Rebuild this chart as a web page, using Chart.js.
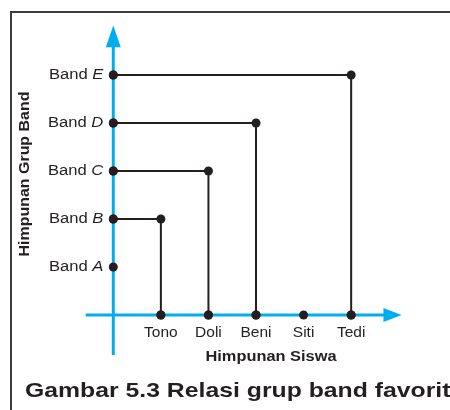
<!DOCTYPE html>
<html>
<head>
<meta charset="utf-8">
<script src="https://cdn.jsdelivr.net/npm/chart.js@4"></script>
<style>
  html, body { margin: 0; padding: 0; background: #fff; }
  canvas { display: block; }
</style>
</head>
<body>
<canvas id="grafikRelasi" width="450" height="410"></canvas>
<script>
'use strict'

// DATOS DEL DIAGRAMA
const siswa = ['Tono', 'Doli', 'Beni', 'Siti', 'Tedi'];
const grupBand = ['A', 'B', 'C', 'D', 'E'];
// pasangan relasi: siswa -> band favorit
const relasiSiswa = ['Tono', 'Doli', 'Beni', 'Tedi'];
const relasiBand = ['B', 'C', 'D', 'E'];
const judulX = 'Himpunan Siswa';
const judulY = 'Himpunan Grup Band';
const judulGambar = 'Gambar 5.3 Relasi grup band favorit';

const BIRU = '#00aeef';
const HITAM = '#231f20';
const FONT = '"Liberation Sans", Arial, sans-serif';

// titik-titik di tiap sumbu
const titikSiswa = siswa.map((s, i) => ({ x: i + 1, y: 0 }));
const titikBand = grupBand.map((b, i) => ({ x: 0, y: i + 1 }));

// garis siku dari band ke siswa
const garisRelasi = relasiSiswa.map((s, i) => {
  const xs = siswa.indexOf(s) + 1;
  const yb = grupBand.indexOf(relasiBand[i]) + 1;
  return {
    data: [{ x: 0, y: yb }, { x: xs, y: yb }, { x: xs, y: 0 }],
    showLine: true,
    borderColor: HITAM,
    borderWidth: 2,
    pointRadius: 4.5,
    pointBackgroundColor: HITAM,
    pointBorderWidth: 0,
    tension: 0,
    clip: false
  };
});

function titik(data) {
  return {
    data: data,
    showLine: false,
    pointRadius: 4.5,
    pointBackgroundColor: HITAM,
    pointBorderWidth: 0,
    clip: false
  };
}

// tulisan yang sedikit melebar ke samping
function tulisLebar(ctx, teks, x, y, skala) {
  ctx.save();
  ctx.translate(x, y);
  ctx.scale(skala, 1);
  ctx.fillText(teks, 0, 0);
  ctx.restore();
}

// SUMBU BIRU, BINGKAI Y TULISAN
const pluginGambar = {
  id: 'pluginGambar',
  beforeDraw(chart) {
    const ctx = chart.ctx;
    ctx.save();
    ctx.fillStyle = '#fff';
    ctx.fillRect(0, 0, chart.width, chart.height);
    ctx.strokeStyle = '#3c3c3c';
    ctx.lineWidth = 2;
    ctx.strokeRect(11, 12, 470, 430);
    ctx.restore();
  },
  beforeDatasetsDraw(chart) {
    const ctx = chart.ctx;
    const sx = chart.scales.x, sy = chart.scales.y;
    const x0 = sx.getPixelForValue(0), y0 = sy.getPixelForValue(0);
    ctx.save();
    ctx.strokeStyle = BIRU;
    ctx.fillStyle = BIRU;
    ctx.lineWidth = 3;
    // sumbu x
    const xa = sx.getPixelForValue(-0.58), xb = sx.getPixelForValue(5.7), xt = sx.getPixelForValue(6.06);
    ctx.beginPath();
    ctx.moveTo(xa, y0);
    ctx.lineTo(xb, y0);
    ctx.stroke();
    ctx.beginPath();
    ctx.moveTo(xt, y0);
    ctx.lineTo(xb - 1, y0 - 7);
    ctx.lineTo(xb - 1, y0 + 7);
    ctx.closePath();
    ctx.fill();
    // sumbu y
    const ya = sy.getPixelForValue(-0.833), yb = sy.getPixelForValue(5.6), yt = sy.getPixelForValue(6.03);
    ctx.beginPath();
    ctx.moveTo(x0, ya);
    ctx.lineTo(x0, yb);
    ctx.stroke();
    ctx.beginPath();
    ctx.moveTo(x0, yt);
    ctx.lineTo(x0 - 7.5, yb + 1);
    ctx.lineTo(x0 + 7.5, yb + 1);
    ctx.closePath();
    ctx.fill();
    ctx.restore();
  },
  afterDatasetsDraw(chart) {
    const ctx = chart.ctx;
    const sx = chart.scales.x, sy = chart.scales.y;
    const x0 = sx.getPixelForValue(0), y0 = sy.getPixelForValue(0);
    ctx.save();
    ctx.fillStyle = HITAM;
    ctx.textBaseline = 'middle';

    // label band: "Band " + huruf miring
    const skalaLabel = 1.07;
    grupBand.forEach((b, i) => {
      const y = sy.getPixelForValue(i + 1);
      ctx.font = 'italic 15.5px ' + FONT;
      const wHuruf = ctx.measureText(b).width * skalaLabel;
      ctx.textAlign = 'right';
      tulisLebar(ctx, b, x0 - 10, y, skalaLabel);
      ctx.font = '15.5px ' + FONT;
      tulisLebar(ctx, 'Band ', x0 - 10 - wHuruf, y, skalaLabel);
    });

    // label siswa
    ctx.font = '15.5px ' + FONT;
    ctx.textAlign = 'center';
    siswa.forEach((s, i) => {
      ctx.fillText(s, sx.getPixelForValue(i + 1), y0 + 18);
    });

    // judul sumbu
    ctx.font = 'bold 14px ' + FONT;
    tulisLebar(ctx, judulX, 271, 357, 1.17);
    ctx.save();
    ctx.translate(25, 174);
    ctx.rotate(-Math.PI / 2);
    tulisLebar(ctx, judulY, 0, 0, 1.14);
    ctx.restore();

    // judul gambar
    ctx.font = 'bold 21px ' + FONT;
    ctx.textAlign = 'left';
    ctx.textBaseline = 'alphabetic';
    tulisLebar(ctx, judulGambar, 25, 397, 1.18);
    ctx.restore();
  }
};

function crearGrafica() {
  const ctx = document.getElementById('grafikRelasi').getContext('2d');
  new Chart(ctx, {
    type: 'scatter',
    data: {
      datasets: [...garisRelasi, titik(titikSiswa), titik(titikBand)]
    },
    options: {
      responsive: false,
      animation: false,
      devicePixelRatio: 1,
      layout: { padding: { left: 80, right: 37, top: 27, bottom: 47 } },
      scales: {
        x: { type: 'linear', min: -0.7, max: 6.3, display: false },
        y: { type: 'linear', min: -1, max: 6, display: false }
      },
      plugins: {
        legend: { display: false },
        tooltip: { enabled: false }
      }
    },
    plugins: [pluginGambar]
  });
}

crearGrafica();
</script>
</body>
</html>
